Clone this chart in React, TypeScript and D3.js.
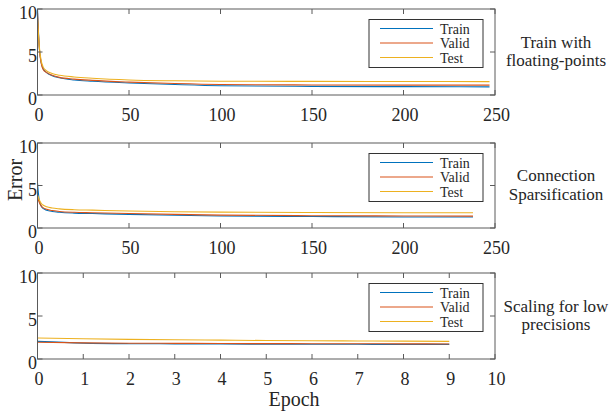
import * as d3 from 'd3'

const FONT = 'Liberation Serif, Times New Roman, Times, serif'
const COLORS = { train: '#0072BD', valid: '#D95319', test: '#EDB120' }
const LEGEND_LABELS = ['Train', 'Valid', 'Test']
const Y_TICKS = [0, 5, 10]

// panel 1: train with floating-points
const epochs1 = [0, 1, 2, 3, 5, 8, 12, 20, 30, 50, 75, 100, 150, 200, 247]
const train1 = [10, 5.5, 3.8, 3.1, 2.6, 2.25, 2.0, 1.75, 1.6, 1.4, 1.22, 1.08, 1.0, 0.97, 0.95]
const valid1 = [9.6, 5.4, 3.7, 3.0, 2.6, 2.3, 2.05, 1.85, 1.7, 1.5, 1.33, 1.22, 1.17, 1.15, 1.15]
const test1 = [9.0, 5.6, 4.0, 3.3, 2.8, 2.5, 2.3, 2.1, 1.95, 1.75, 1.65, 1.6, 1.58, 1.57, 1.56]
const xTicks1 = [0, 50, 100, 150, 200, 250]

// panel 2: connection sparsification
const epochs2 = [0, 1, 2, 3, 5, 8, 12, 20, 30, 50, 75, 100, 150, 200, 238]
const train2 = [5.3, 3.2, 2.6, 2.3, 2.1, 1.95, 1.85, 1.75, 1.7, 1.6, 1.5, 1.42, 1.35, 1.3, 1.3]
const valid2 = [3.6, 3.0, 2.6, 2.4, 2.2, 2.05, 1.95, 1.85, 1.8, 1.7, 1.6, 1.52, 1.45, 1.42, 1.4]
const test2 = [3.9, 3.3, 2.9, 2.7, 2.5, 2.35, 2.25, 2.15, 2.1, 2.0, 1.92, 1.87, 1.82, 1.8, 1.8]
const xTicks2 = [0, 50, 100, 150, 200, 250]

// panel 3: scaling for low precisions
const epochs3 = [0, 1, 2, 3, 4, 5, 6, 7, 8, 9]
const train3 = [2.05, 1.85, 1.78, 1.76, 1.74, 1.73, 1.72, 1.71, 1.7, 1.7]
const valid3 = [1.95, 1.88, 1.84, 1.82, 1.8, 1.79, 1.78, 1.77, 1.76, 1.75]
const test3 = [2.45, 2.35, 2.28, 2.23, 2.19, 2.15, 2.12, 2.1, 2.08, 2.05]
const xTicks3 = [0, 1, 2, 3, 4, 5, 6, 7, 8, 9, 10]

const LEFT = 37.5
const RIGHT = 495

const panels = [
  { top: 9, bottom: 95, xMax: 250, xTicks: xTicks1, epochs: epochs1, series: [train1, valid1, test1], side: ['Train with', 'floating-points'] },
  { top: 143, bottom: 228, xMax: 250, xTicks: xTicks2, epochs: epochs2, series: [train2, valid2, test2], side: ['Connection', 'Sparsification'] },
  { top: 273, bottom: 359, xMax: 10, xTicks: xTicks3, epochs: epochs3, series: [train3, valid3, test3], side: ['Scaling for low', 'precisions'] },
]

const seriesColors = [COLORS.train, COLORS.valid, COLORS.test]
const txt = { fontFamily: FONT }

function Panel({ p }: { p: (typeof panels)[number] }) {
  const x = d3.scaleLinear().domain([0, p.xMax]).range([LEFT, RIGHT])
  const y = d3.scaleLinear().domain([0, 10]).range([p.bottom, p.top])
  const line = d3
    .line<[number, number]>()
    .x((d) => x(d[0]))
    .y((d) => y(d[1]))
    .curve(d3.curveMonotoneX)
  const mid = (p.top + p.bottom) / 2
  const lgX = RIGHT - 12 - 114
  const lgY = p.top + 10.5
  return (
    <g>
      <defs>
        <clipPath id={`clip${p.top}`}>
          <rect x={LEFT} y={p.top} width={RIGHT - LEFT} height={p.bottom - p.top} />
        </clipPath>
      </defs>
      <g clipPath={`url(#clip${p.top})`}>
        {p.series.map((s, i) => (
          <path
            key={i}
            d={line(p.epochs.map((e, j) => [e, s[j]] as [number, number])) ?? ''}
            fill="none"
            stroke={seriesColors[i]}
            strokeWidth={1.1}
          />
        ))}
      </g>
      <rect x={LEFT} y={p.top} width={RIGHT - LEFT} height={p.bottom - p.top} fill="none" stroke="#5a5a5a" strokeWidth={1} />
      {p.xTicks.map((t) => (
        <g key={t}>
          <line x1={x(t)} x2={x(t)} y1={p.bottom} y2={p.bottom - 5} stroke="#5a5a5a" />
          <line x1={x(t)} x2={x(t)} y1={p.top} y2={p.top + 5} stroke="#5a5a5a" />
          <text x={x(t) + 1.5} y={p.bottom + 25.5} textAnchor="middle" fontSize={18} fill="#262626" style={txt}>
            {t}
          </text>
        </g>
      ))}
      {Y_TICKS.map((t) => (
        <g key={t}>
          <line x1={LEFT} x2={LEFT + 5} y1={y(t)} y2={y(t)} stroke="#5a5a5a" />
          <line x1={RIGHT} x2={RIGHT - 5} y1={y(t)} y2={y(t)} stroke="#5a5a5a" />
          <text x={LEFT - 0.5} y={y(t) + 10} textAnchor="end" fontSize={18} fill="#262626" style={txt}>
            {t}
          </text>
        </g>
      ))}
      <rect x={lgX} y={lgY} width={114} height={48} fill="white" stroke="#333" strokeWidth={1} />
      {LEGEND_LABELS.map((lab, i) => (
        <g key={lab}>
          <line x1={lgX + 11} x2={lgX + 64} y1={lgY + 9 + i * 14.5} y2={lgY + 9 + i * 14.5} stroke={seriesColors[i]} strokeWidth={1.1} />
          <text x={lgX + 71} y={lgY + 14 + i * 14.5} fontSize={14} fill="#262626" style={txt}>
            {lab}
          </text>
        </g>
      ))}
      <text x={556} y={mid - 4.5} textAnchor="middle" fontSize={17} fill="#262626" style={txt}>
        {p.side[0]}
      </text>
      <text x={556} y={mid + 14} textAnchor="middle" fontSize={17} fill="#262626" style={txt}>
        {p.side[1]}
      </text>
    </g>
  )
}

export default function App() {
  return (
    <svg
      width={610}
      height={415}
      style={{ position: 'absolute', left: 0, top: 0, background: 'white' }}
    >
      {panels.map((p) => (
        <Panel key={p.top} p={p} />
      ))}
      <text x={294} y={406} textAnchor="middle" fontSize={20} fill="#262626" style={txt}>
        Epoch
      </text>
      <text transform="translate(22,180) rotate(-90)" textAnchor="middle" fontSize={20} fill="#262626" style={txt}>
        Error
      </text>
    </svg>
  )
}
